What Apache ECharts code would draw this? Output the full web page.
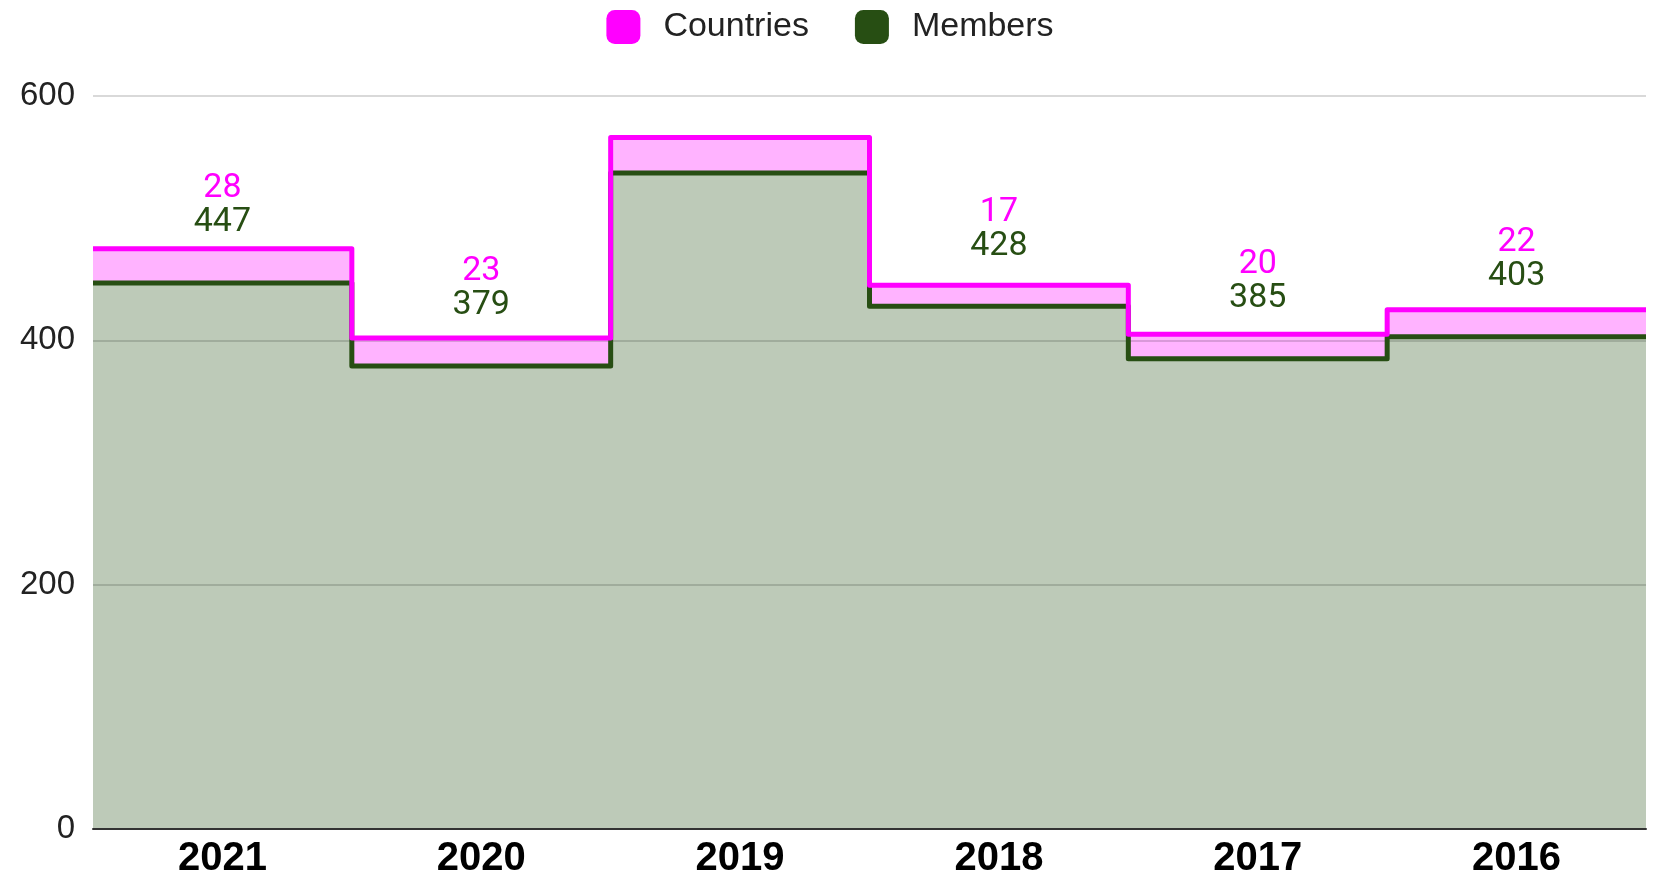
<!DOCTYPE html>
<html>
<head>
<meta charset="utf-8">
<script src="https://cdn.jsdelivr.net/npm/echarts@6/dist/echarts.min.js"></script>
<style>
html,body{margin:0;padding:0;background:#fff;}
#chart{width:1660px;height:881px;}
</style>
</head>
<body>
<div id="chart"></div>
<script>
const categories = ['2021', '2020', '2019', '2018', '2017', '2016'];
const members = [447, 379, 537, 428, 385, 403];
const countries = [28, 23, 29, 17, 20, 22];
const showLabel = [true, true, false, true, true, true];
const yTicks = [0, 200, 400, 600];

const MAG = '#ff00ff';
const GRN = '#274e13';
const MAG_FILL = '#ffb3ff';
const GRN_FILL = '#bdcab8';

// stacked top = members + countries
const totals = members.map(function (m, i) { return m + countries[i]; });

// each category spans [i-0.5, i+0.5] on a hidden value axis (step shape)
function stepData(vals, withLabels) {
  const out = [];
  vals.forEach(function (v, i) {
    out.push({ value: [i - 0.5, v] });
    const mid = { value: [i, v] };
    if (withLabels && showLabel[i]) mid.label = { show: true };
    out.push(mid);
    out.push({ value: [i + 0.5, v] });
  });
  return out;
}

const common = { type: 'line', xAxisIndex: 1, symbol: 'circle', symbolSize: 0, showSymbol: false };

const chart = echarts.init(document.getElementById('chart'));
chart.setOption({
  animation: false,
  legend: {
    top: 5,
    left: 'center',
    itemWidth: 34,
    itemHeight: 34,
    itemGap: 46,
    icon: 'roundRect',
    textStyle: { fontSize: 34, color: '#222', fontFamily: 'Liberation Sans, Arial, sans-serif', padding: [0, 0, 0, 18] },
    data: ['Countries', 'Members']
  },
  grid: { left: 93, right: 14, top: 96, bottom: 52 },
  xAxis: [
    {
      type: 'category',
      data: categories,
      boundaryGap: true,
      axisLine: { show: true, lineStyle: { color: '#333', width: 2 } },
      axisTick: { show: false },
      splitLine: { show: false },
      axisLabel: { fontSize: 40, fontWeight: 'bold', color: '#000', margin: 10, fontFamily: 'Liberation Sans, Arial, sans-serif' },
      z: 10
    },
    {
      type: 'value',
      min: -0.5,
      max: 5.5,
      show: false,
      splitLine: { show: false }
    }
  ],
  yAxis: {
    type: 'value',
    min: yTicks[0],
    max: yTicks[yTicks.length - 1],
    interval: 200,
    z: 2,
    axisLine: { show: false },
    axisTick: { show: false },
    axisLabel: { fontSize: 33, color: '#222', margin: 18, fontFamily: 'Liberation Sans, Arial, sans-serif' },
    splitLine: { lineStyle: { color: 'rgba(0,0,0,0.2)', width: 1.5 } }
  },
  series: [
    Object.assign({}, common, {
      name: 'Countries',
      data: stepData(totals, false),
      lineStyle: { width: 0 },
      itemStyle: { color: MAG },
      areaStyle: { color: MAG_FILL, opacity: 1 },
      z: 1
    }),
    Object.assign({}, common, {
      name: 'Members',
      data: stepData(members, false),
      lineStyle: { width: 0 },
      itemStyle: { color: GRN },
      areaStyle: { color: GRN_FILL, opacity: 1 },
      z: 1.5
    }),
    Object.assign({}, common, {
      name: 'Members',
      data: stepData(members, true),
      showSymbol: true,
      lineStyle: { color: GRN, width: 5, join: 'round' },
      itemStyle: { color: GRN },
      label: {
        show: false,
        position: 'top',
        distance: 43,
        formatter: function (p) {
          const i = Math.round(p.value[0]);
          return '{c|' + countries[i] + '}\n{m|' + members[i] + '}';
        },
        rich: {
          c: { color: MAG, fontSize: 34, lineHeight: 34, fontFamily: 'Roboto, sans-serif', align: 'center' },
          m: { color: GRN, fontSize: 34, lineHeight: 34, fontFamily: 'Roboto, sans-serif', align: 'center' }
        }
      },
      z: 3
    }),
    Object.assign({}, common, {
      name: 'Countries',
      data: stepData(totals, false),
      lineStyle: { color: MAG, width: 5, join: 'round' },
      itemStyle: { color: MAG },
      z: 4
    })
  ]
});
</script>
</body>
</html>
